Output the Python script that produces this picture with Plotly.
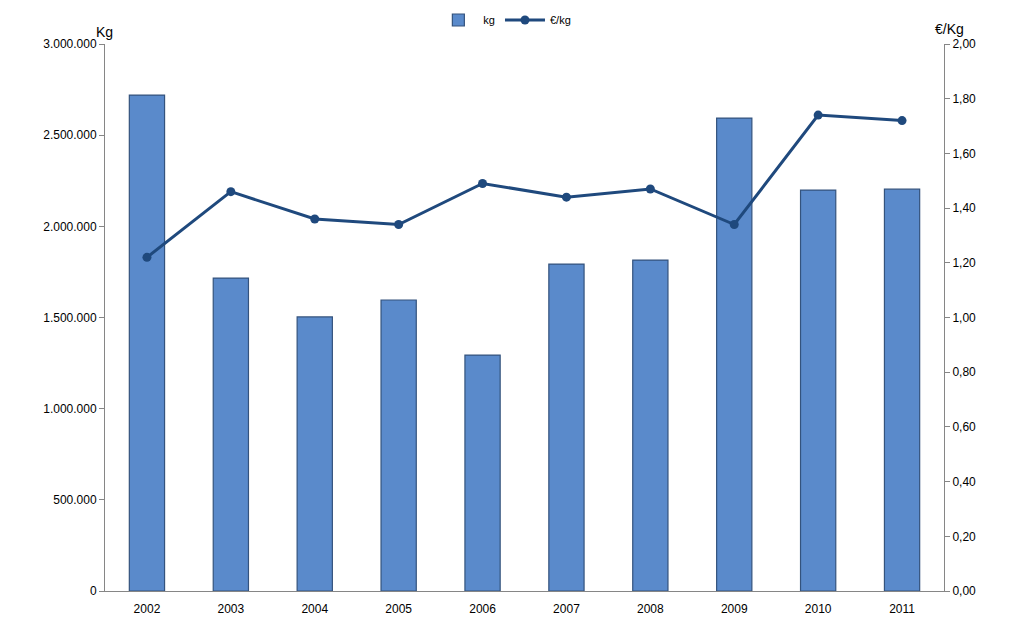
import plotly.graph_objects as go

years = ["2002", "2003", "2004", "2005", "2006", "2007", "2008", "2009", "2010", "2011"]
kg = [2720000, 1716000, 1503000, 1596000, 1294000, 1793000, 1815000, 2594000, 2199000, 2204000]
eur_per_kg = [1.22, 1.46, 1.36, 1.34, 1.49, 1.44, 1.47, 1.34, 1.74, 1.72]

AXIS_GREY = "#868686"
FONT = "Liberation Sans"

fig = go.Figure()

fig.add_trace(go.Bar(
    x=years, y=kg, name="kg", width=0.42,
    marker=dict(color="#5A8ACB", line=dict(color="#34537d", width=1.2)),
    yaxis="y",
))

fig.add_trace(go.Scatter(
    x=years, y=eur_per_kg, name="€/kg", mode="lines+markers",
    line=dict(color="#1F497D", width=3),
    marker=dict(color="#1F497D", size=9),
    yaxis="y2",
))

# page body adds an 8px offset, margins compensate for it
fig.update_layout(
    width=1014,
    height=618,
    plot_bgcolor="white",
    paper_bgcolor="white",
    separators=",.",
    font=dict(family=FONT, size=12, color="#000000"),
    margin=dict(l=97, r=78, t=36, b=35, autoexpand=False),
    showlegend=True,
    legend=dict(
        orientation="h", x=0.49, xanchor="center", xref="container",
        y=1 - 12 / 618, yanchor="middle", yref="container",
        font=dict(size=11), itemwidth=40,
    ),
    xaxis=dict(
        type="category", range=[-0.5, len(years) - 0.5], showgrid=False,
        showline=True, linecolor=AXIS_GREY, ticks="outside", ticklen=7,
        tickcolor="rgba(0,0,0,0)", zeroline=False, automargin=False,
    ),
    yaxis=dict(
        range=[0, 3000000], tickvals=[0, 500000, 1000000, 1500000, 2000000, 2500000, 3000000],
        tickformat=",d", showgrid=False, showline=True, linecolor=AXIS_GREY,
        ticks="outside", ticklen=5, tickcolor=AXIS_GREY, zeroline=False,
        automargin=False,
    ),
    yaxis2=dict(
        range=[0, 2.0], tickvals=[i * 0.2 for i in range(11)], tickformat=".2f",
        overlaying="y", side="right", showgrid=False, showline=True,
        linecolor=AXIS_GREY, ticks="outside", ticklen=5, tickcolor=AXIS_GREY,
        zeroline=False, automargin=False,
    ),
    annotations=[
        dict(text="Kg", xref="paper", yref="paper", x=0, y=1.0, xanchor="right",
             yanchor="bottom", xshift=10, yshift=2, showarrow=False, font=dict(size=14)),
        dict(text="€/Kg", xref="paper", yref="paper", x=1, y=1.0, xanchor="center",
             yanchor="bottom", xshift=5, yshift=5, showarrow=False, font=dict(size=14)),
    ],
)

fig.write_html("out.html")
